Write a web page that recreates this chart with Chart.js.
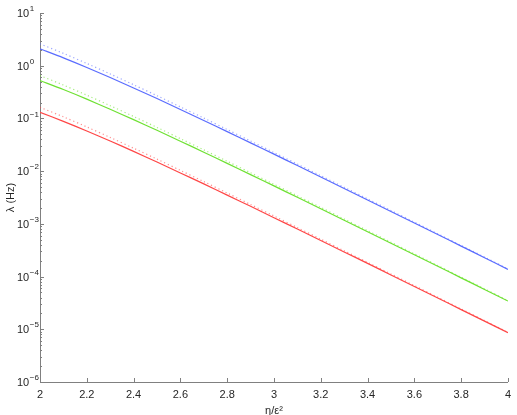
<!DOCTYPE html>
<html>
<head>
<meta charset="utf-8">
<script src="https://cdn.jsdelivr.net/npm/chart.js@4.4.1/dist/chart.umd.min.js"></script>
<style>
  html, body { margin: 0; padding: 0; background: #fff; }
  canvas { display: block; }
</style>
</head>
<body>
<canvas id="chart" width="517" height="415"></canvas>
<script>
// eta / eps^2
var X_VALUES = [2.0, 2.1, 2.2, 2.3, 2.4, 2.5, 2.6, 2.7, 2.8, 2.9, 3.0,
                3.1, 3.2, 3.3, 3.4, 3.5, 3.6, 3.7, 3.8, 3.9, 4.0];

// lambda (Hz), solid curves
var BLUE_RATE  = [2.09, 1.41, 0.927, 0.597, 0.379, 0.238, 0.148, 0.0916, 0.0562, 0.0344, 0.0210,
                  0.01276, 0.00774, 0.00469, 0.00284, 0.00172, 0.00104, 6.27e-4, 3.78e-4, 2.28e-4, 1.37e-4];
var GREEN_RATE = [0.523, 0.353, 0.232, 0.149, 0.0948, 0.0595, 0.037, 0.0229, 0.01405, 0.0086, 0.00525,
                  0.00319, 0.00194, 0.00117, 7.1e-4, 4.3e-4, 2.6e-4, 1.57e-4, 9.45e-5, 5.7e-5, 3.43e-5];
var RED_RATE   = [0.131, 0.0881, 0.0579, 0.0373, 0.0237, 0.0149, 0.00925, 0.00573, 0.00351, 0.00215, 0.00131,
                  7.98e-4, 4.84e-4, 2.93e-4, 1.78e-4, 1.075e-4, 6.5e-5, 3.92e-5, 2.36e-5, 1.43e-5, 8.6e-6];

// dotted approximations
var BLUE_APPROX  = [2.60, 1.715, 1.104, 0.698, 0.436, 0.270, 0.1656, 0.1014, 0.0615, 0.0373, 0.02255,
                    0.01361, 0.0082, 0.00493, 0.002974, 0.001792, 0.00108, 6.48e-4, 3.89e-4, 2.34e-4, 1.40e-4];
var GREEN_APPROX = [0.65, 0.429, 0.276, 0.1745, 0.109, 0.0675, 0.0414, 0.02535, 0.01538, 0.00933, 0.00564,
                    0.0034, 0.00205, 0.001233, 7.44e-4, 4.48e-4, 2.7e-4, 1.62e-4, 9.73e-5, 5.85e-5, 3.5e-5];
var RED_APPROX   = [0.1625, 0.1072, 0.069, 0.0436, 0.02725, 0.01688, 0.01035, 0.00634, 0.00384, 0.00233, 0.00141,
                    8.5e-4, 5.13e-4, 3.08e-4, 1.86e-4, 1.12e-4, 6.75e-5, 4.05e-5, 2.43e-5, 1.46e-5, 8.75e-6];

var Y_DECADES = [-6, -5, -4, -3, -2, -1, 0, 1];
var X_TICKS = [2, 2.2, 2.4, 2.6, 2.8, 3, 3.2, 3.4, 3.6, 3.8, 4];

var AXIS_COLOR = '#808080';
var TEXT_COLOR = '#262626';
var FONT = '"Liberation Sans", Arial, sans-serif';

function pts(ys){
  return X_VALUES.map(function(x, i){ return {x: x, y: ys[i]}; });
}

function solid(label, ys, color){
  return { label: label, data: pts(ys), borderColor: color, borderWidth: 1.2,
           pointRadius: 0, fill: false, tension: 0.3 };
}
function dotted(label, ys, color){
  return { label: label, data: pts(ys), borderColor: color, borderWidth: 1.2,
           borderDash: [1.2, 2.8], pointRadius: 0, fill: false, tension: 0.3 };
}

// inward ticks + 10^n labels + y title, matlab style
var axisDecor = {
  id: 'axisDecor',
  afterDraw: function(chart){
    var ctx = chart.ctx, xs = chart.scales.x, ys = chart.scales.y;
    var left = chart.chartArea.left, bottom = chart.chartArea.bottom;
    ctx.save();
    ctx.strokeStyle = AXIS_COLOR;
    ctx.lineWidth = 1;
    ctx.beginPath();
    Y_DECADES.forEach(function(e){
      var py = Math.round(ys.getPixelForValue(Math.pow(10, e))) + 0.5;
      ctx.moveTo(left, py); ctx.lineTo(left + 4, py);
      if (e < 1) {
        for (var k = 2; k <= 9; k++) {
          var my = Math.round(ys.getPixelForValue(k * Math.pow(10, e))) + 0.5;
          ctx.moveTo(left, my); ctx.lineTo(left + 2, my);
        }
      }
    });
    X_TICKS.forEach(function(v){
      var px = Math.round(xs.getPixelForValue(v)) + 0.5;
      ctx.moveTo(px, bottom); ctx.lineTo(px, bottom - 4);
    });
    ctx.stroke();

    ctx.fillStyle = TEXT_COLOR;
    ctx.textBaseline = 'middle';
    ctx.textAlign = 'left';
    Y_DECADES.forEach(function(e){
      var py = ys.getPixelForValue(Math.pow(10, e));
      ctx.font = '11px ' + FONT;
      ctx.fillText('10', 17, py + 1);
      var w = ctx.measureText('10').width;
      ctx.font = '8px ' + FONT;
      ctx.fillText(e < 0 ? '\u2212' + (-e) : String(e), 17 + w + 0.5, py - 4);
    });

    ctx.translate(11, (chart.chartArea.top + bottom) / 2);
    ctx.rotate(-Math.PI / 2);
    ctx.textAlign = 'center';
    ctx.font = '11px ' + FONT;
    ctx.fillText('\u03bb (Hz)', 0, 0);
    ctx.restore();
  }
};

new Chart(document.getElementById('chart'), {
  type: 'line',
  data: {
    datasets: [
      dotted('blue approx', BLUE_APPROX, 'rgba(90,108,255,0.6)'),
      dotted('green approx', GREEN_APPROX, 'rgba(110,225,50,0.6)'),
      dotted('red approx', RED_APPROX, 'rgba(255,70,70,0.6)'),
      solid('blue', BLUE_RATE, '#5a6cff'),
      solid('green', GREEN_RATE, '#6ee132'),
      solid('red', RED_RATE, '#ff4646')
    ]
  },
  options: {
    responsive: false,
    animation: false,
    layout: { padding: { left: 0, right: 8, top: 13, bottom: 0 } },
    plugins: { legend: { display: false }, tooltip: { enabled: false } },
    scales: {
      x: {
        type: 'linear', min: 2, max: 4,
        grid: { display: false, drawTicks: false },
        border: { display: true, color: AXIS_COLOR, width: 1 },
        afterBuildTicks: function(s){ s.ticks = X_TICKS.map(function(v){ return {value: v}; }); },
        afterFit: function(s){ s.height = 33; },
        ticks: {
          padding: 6, color: TEXT_COLOR, maxRotation: 0, autoSkip: false,
          font: { family: FONT, size: 11 },
          callback: function(v){ return String(+v.toFixed(1)); }
        },
        title: { display: true, text: '\u03b7/\u03b5\u00b2', color: TEXT_COLOR,
                 font: { family: FONT, size: 11 }, padding: { top: 0, bottom: -3 } }
      },
      y: {
        type: 'logarithmic', min: 1e-6, max: 10,
        grid: { display: false, drawTicks: false },
        border: { display: true, color: AXIS_COLOR, width: 1 },
        ticks: { display: false },
        afterFit: function(s){ s.width = 40; }
      }
    }
  },
  plugins: [axisDecor]
});
</script>
</body>
</html>
